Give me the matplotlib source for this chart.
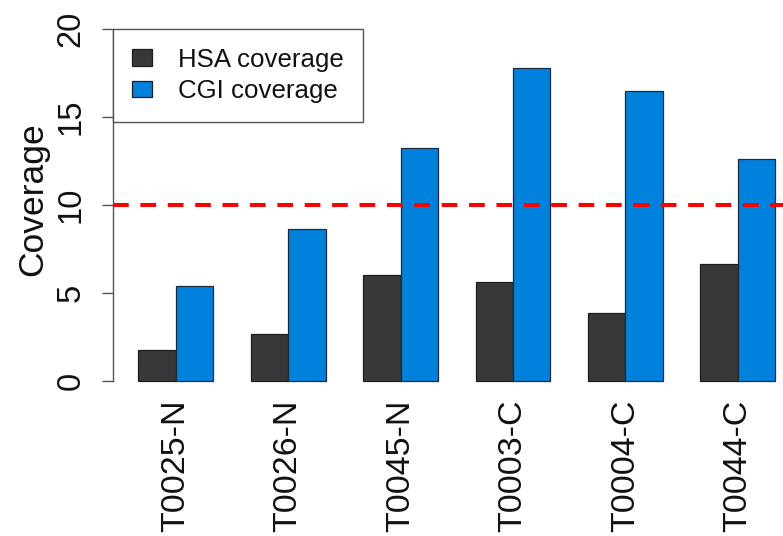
import matplotlib
matplotlib.use("Agg")
import matplotlib.pyplot as plt
from matplotlib.patches import Patch

# Data
samples = ["T0025-N", "T0026-N", "T0045-N", "T0003-C", "T0004-C", "T0044-C"]
hsa_coverage = [1.75, 2.67, 6.0, 5.64, 3.84, 6.62]
cgi_coverage = [5.39, 8.63, 13.24, 17.76, 16.46, 12.62]
series_names = ["HSA coverage", "CGI coverage"]
series_colors = ["#38383a", "#0082dc"]
threshold = 10
y_ticks = [0, 5, 10, 15, 20]

plt.rcParams["font.family"] = ["Liberation Sans", "DejaVu Sans"]
text_color = "#111111"
axis_color = "#555555"

W, H = 783, 536
fig = plt.figure(figsize=(W / 100, H / 100), dpi=100)

# Plot region (base-R style barplot: 4% padding around the data range)
x_lo, x_hi = 0.32, 18.68
y_lo, y_hi = -0.8, 20.8
left_px, right_px = 112.8, 800.8
top_px, bottom_px = 14.5, 395.1
ax = fig.add_axes([left_px / W, 1 - bottom_px / H,
                   (right_px - left_px) / W, (bottom_px - top_px) / H])
ax.set_xlim(x_lo, x_hi)
ax.set_ylim(y_lo, y_hi)

# Grouped bars: each group has two unit-width bars and a unit gap before it
n = len(samples)
hsa_left = [1 + 3 * i for i in range(n)]
cgi_left = [2 + 3 * i for i in range(n)]
ax.bar(hsa_left, hsa_coverage, width=1, align="edge", color=series_colors[0],
       edgecolor="#1c1c22", linewidth=0.9, zorder=2)
ax.bar(cgi_left, cgi_coverage, width=1, align="edge", color=series_colors[1],
       edgecolor="#1c2a3a", linewidth=0.9, zorder=2)

# Threshold line
ax.axhline(threshold, color="#ff0000", linewidth=2.9, dashes=(3.9, 2.9),
           dash_capstyle="butt", zorder=3)

# Axes styling
for side in ["top", "right", "bottom"]:
    ax.spines[side].set_visible(False)
ax.spines["left"].set_bounds(0, 20)
ax.spines["left"].set_color(axis_color)
ax.spines["left"].set_linewidth(1.0)

ax.set_yticks(y_ticks)
ax.set_yticklabels([str(v) for v in y_ticks], rotation=90, va="center",
                   fontsize=23.5, color=text_color)
ax.tick_params(axis="y", length=8, width=1.0, color=axis_color, pad=11)

ax.set_xticks([2 + 3 * i for i in range(n)])
ax.set_xticklabels(samples, rotation=90, fontsize=24.5, color=text_color,
                   va="top", ha="center")
ax.tick_params(axis="x", length=0, pad=3)

ax.set_ylabel("Coverage", fontsize=25.5, color=text_color)
ax.yaxis.set_label_coords(-0.092, 0.515)

# Legend
handles = [Patch(facecolor=c, edgecolor="#1c1c22", linewidth=0.9)
           for c in series_colors]
leg = ax.legend(handles, series_names, loc="upper left",
                bbox_to_anchor=(x_lo, 20), bbox_transform=ax.transData,
                borderaxespad=0, borderpad=0.74, labelspacing=0.29,
                handlelength=0.78, handleheight=0.62, handletextpad=1.0,
                fontsize=18.6, frameon=True, fancybox=False, framealpha=1)
leg.get_frame().set_edgecolor(axis_color)
leg.get_frame().set_linewidth(1.0)
for t in leg.get_texts():
    t.set_color(text_color)

fig.savefig("out.png", dpi=100)
